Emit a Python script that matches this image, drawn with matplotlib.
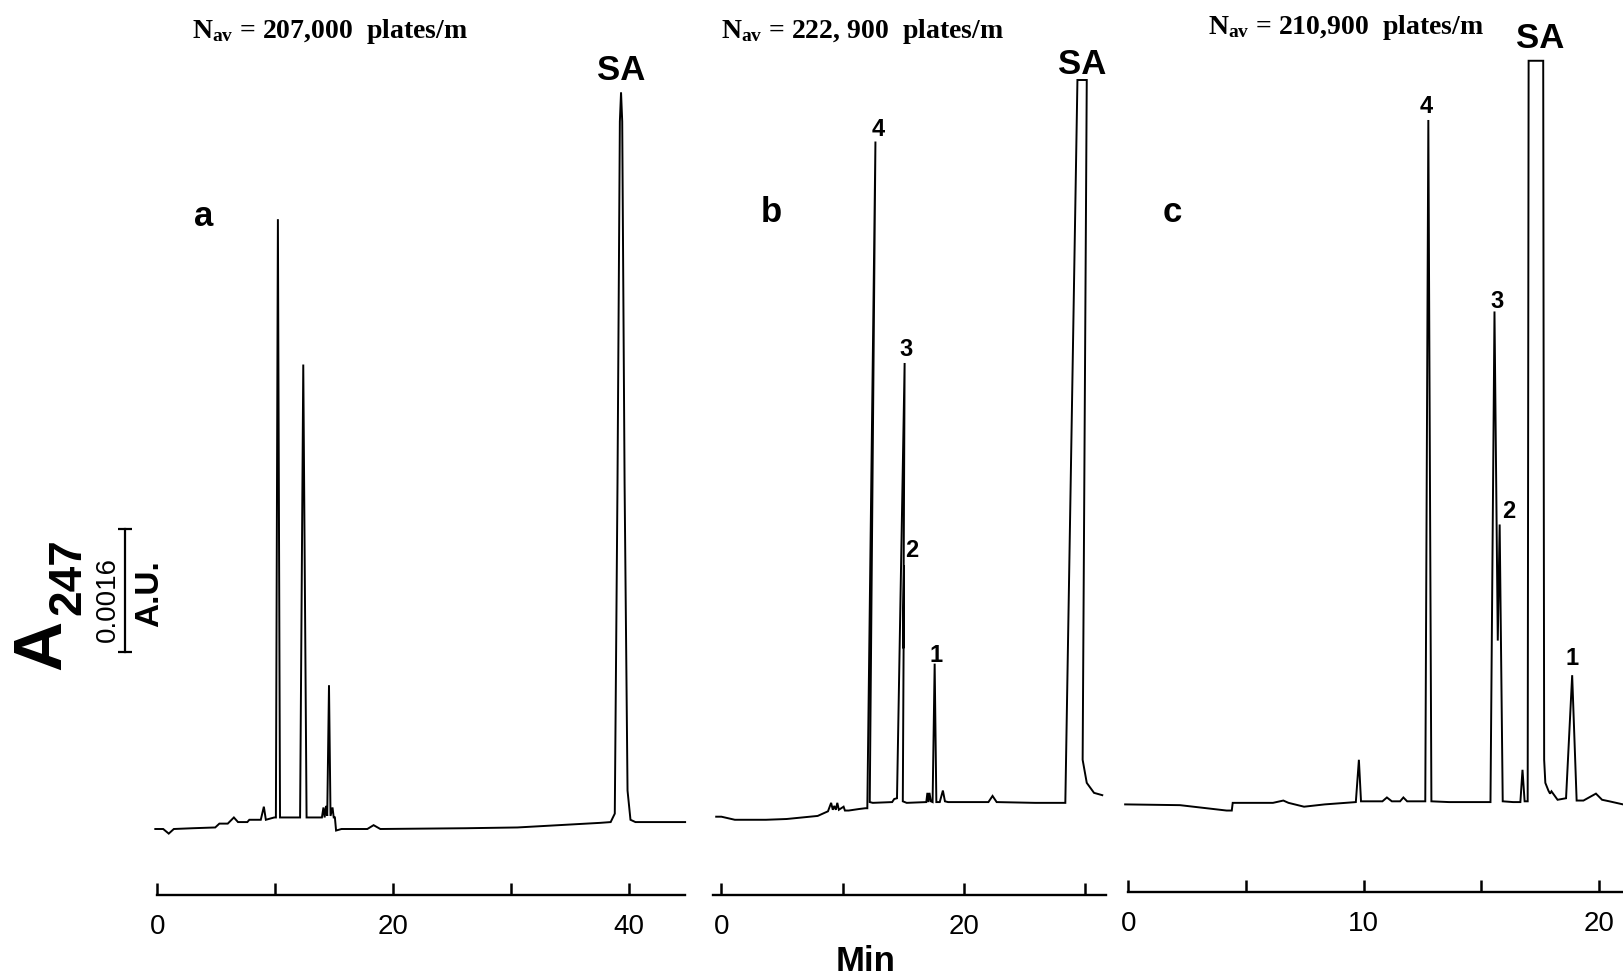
import matplotlib

matplotlib.use("Agg")
import matplotlib.pyplot as plt

# chromatograms: retention time (min) and absorbance at 247 nm (mAU, 1.6 mAU = 0.0016 A.U.)
a_time = [-0.17, 0.50, 0.97, 1.40, 3.00, 4.91, 5.26, 5.97, 6.49, 6.84, 7.63, 7.80, 8.77, 9.03,
          9.20, 9.91, 10.05, 10.22, 10.40, 10.53, 11.84, 12.10, 12.37, 12.65, 12.80, 13.95, 14.08,
          14.18, 14.30, 14.40, 14.55, 14.68, 14.85, 14.95, 15.05, 15.15, 15.61, 17.80, 18.33, 18.90,
          26.14, 30.52, 34.03, 37.54, 38.42, 38.77, 39.00, 39.20, 39.30, 39.40, 39.60, 39.85, 40.10,
          40.52, 44.73]
a_abs = [0.00, 0.00, -0.06, 0.00, 0.01, 0.02, 0.07, 0.07, 0.15, 0.09, 0.09, 0.12, 0.12, 0.29,
         0.12, 0.15, 0.15, 7.93, 0.15, 0.15, 0.15, 0.15, 6.04, 0.15, 0.15, 0.15, 0.28,
         0.15, 0.30, 0.17, 1.87, 0.17, 0.28, 0.15, 0.15, -0.02, 0.00, 0.00, 0.05, 0.00,
         0.01, 0.02, 0.05, 0.08, 0.09, 0.20, 4.50, 9.20, 9.58, 9.20, 4.50, 0.50, 0.12,
         0.09, 0.09]

b_time = [-0.43, 0.00, 1.11, 3.68, 5.39, 7.95, 8.80, 9.06, 9.20, 9.32, 9.45, 9.57, 9.70, 10.09,
          10.20, 10.51, 11.37, 11.88, 12.05, 12.72, 12.25, 12.50, 14.10, 14.27, 14.50, 15.13, 15.02,
          15.08, 14.98, 15.30, 16.92, 17.01, 17.10, 17.18, 17.30, 17.44, 17.61, 17.75, 18.03, 18.29,
          18.46, 18.72, 22.05, 22.39, 22.73, 25.90, 28.40, 29.40, 30.17, 29.83, 30.17, 30.77, 31.45]
b_abs = [0.16, 0.16, 0.12, 0.12, 0.13, 0.17, 0.23, 0.34, 0.25, 0.30, 0.25, 0.34, 0.25, 0.29,
         0.24, 0.24, 0.26, 0.27, 0.27, 8.94, 0.35, 0.34, 0.35, 0.39, 0.40, 6.06, 2.35,
         3.43, 0.36, 0.34, 0.35, 0.47, 0.35, 0.47, 0.36, 0.35, 2.15, 0.35, 0.35, 0.50,
         0.36, 0.35, 0.35, 0.43, 0.35, 0.34, 0.34, 9.74, 9.74, 0.90, 0.60, 0.47, 0.44]

c_time = [-0.13, 2.20, 4.18, 4.40, 4.44, 6.15, 6.59, 6.81, 7.47, 8.35, 9.67, 9.80, 9.89, 10.80,
          10.99, 11.20, 11.55, 11.69, 11.85, 12.62, 12.75, 12.88, 13.63, 15.39, 15.56, 15.70, 15.78,
          15.91, 16.35, 16.66, 16.75, 16.84, 16.97, 17.01, 17.63, 17.67, 17.72, 17.85, 17.92, 17.98,
          18.24, 18.60, 18.86, 19.05, 19.34, 19.87, 20.13, 20.44, 21.02]
c_abs = [0.32, 0.31, 0.24, 0.24, 0.34, 0.34, 0.37, 0.34, 0.29, 0.32, 0.35, 0.90, 0.36, 0.36,
         0.41, 0.36, 0.36, 0.41, 0.36, 0.36, 9.22, 0.36, 0.35, 0.35, 6.73, 2.45, 3.96,
         0.36, 0.35, 0.35, 0.77, 0.36, 0.36, 9.99, 9.99, 0.90, 0.60, 0.50, 0.46, 0.49,
         0.38, 0.40, 2.00, 0.37, 0.37, 0.46, 0.38, 0.36, 0.32]

titles = ["N$_{\\rm av}$ = 207,000  plates/m", "N$_{\\rm av}$ = 222, 900  plates/m",
          "N$_{\\rm av}$ = 210,900  plates/m"]
panel_letters = ["a", "b", "c"]
tick_values = [[0, 10, 20, 30, 40], [0, 10, 20, 30], [0, 5, 10, 15, 20]]
tick_labels = [["0", "", "20", "", "40"], ["0", "", "20", ""], ["0", "", "10", "", "20"]]
peak_names = ["4", "3", "2", "1"]
scale_bar_base = 2.30
scale_bar_len = 1.6  # mAU == 0.0016 A.U.

W, H = 1623, 979
SANS = ["Liberation Sans", "DejaVu Sans"]
NARROW = ["Liberation Sans Narrow", "Liberation Sans", "DejaVu Sans"]

plt.rcParams["mathtext.fontset"] = "custom"
plt.rcParams["mathtext.rm"] = "Liberation Serif:bold"
plt.rcParams["mathtext.it"] = "Liberation Serif:bold"
plt.rcParams["mathtext.bf"] = "Liberation Serif:bold"


def fx(x):
    return x / W


def fy(y):
    return 1 - y / H


# pixel layout of each panel: (trace left, trace right, zero-min px, px per min, axis left, axis right, axis y)
layout = [
    (140, 700, 157.3, 11.80, 157, 685, 896),
    (700, 1110, 721.4, 12.11, 713, 1106, 896),
    (1110, 1623, 1128.2, 23.54, 1128, 1623, 893),
]
Y0, PX_PER_MAU = 830.0, 76.9
ylim = ((Y0 - H) / PX_PER_MAU, Y0 / PX_PER_MAU)

fig = plt.figure(figsize=(W / 100, H / 100), dpi=100)
fig.patch.set_facecolor("white")

traces = [(a_time, a_abs), (b_time, b_abs), (c_time, c_abs)]
for (times, values), (xl, xr, x0, ppm, al, ar, ay), ticks, labels in zip(traces, layout, tick_values, tick_labels):
    ax = fig.add_axes([fx(xl), 0, fx(xr - xl), 1])
    ax.plot(times, values, color="black", linewidth=1.4, solid_joinstyle="miter")
    ax.set_xlim((xl - x0) / ppm, (xr - x0) / ppm)
    ax.set_ylim(*ylim)
    ax.axis("off")

    tax = fig.add_axes([fx(al), fy(ay), fx(ar - al), 0.04])
    tax.set_facecolor("none")
    tax.set_xlim((al - x0) / ppm, (ar - x0) / ppm)
    for side in ("top", "left", "right"):
        tax.spines[side].set_visible(False)
    tax.spines["bottom"].set_linewidth(1.7)
    tax.set_yticks([])
    tax.set_xticks(ticks)
    tax.set_xticklabels(labels, family=SANS, fontsize=20)
    tax.tick_params(axis="x", direction="in", length=9, width=1.8, pad=13)

# scale bar
sax = fig.add_axes([fx(110), 0, fx(30), 1])
sax.set_ylim(*ylim)
sax.set_xlim(-1, 1)
sax.axis("off")
sax.plot([0, 0], [scale_bar_base, scale_bar_base + scale_bar_len], color="black", linewidth=1.6,
         marker="_", markersize=10, markeredgewidth=1.6)

# y label
fig.text(fx(42), fy(645), "A", rotation=90, ha="center", va="center", fontsize=50,
         fontweight="bold", family=NARROW)
fig.text(fx(68), fy(577), "247", rotation=90, ha="center", va="center", fontsize=33,
         fontweight="bold", family=NARROW)
fig.text(fx(108), fy(600), "0.0016", rotation=90, ha="center", va="center", fontsize=20, family=SANS)
fig.text(fx(150), fy(594), "A.U.", rotation=90, ha="center", va="center", fontsize=24,
         fontweight="bold", family=SANS)

# titles
for title, (x, y) in zip(titles, [(330, 31), (862, 31), (1346, 27)]):
    fig.text(fx(x), fy(y), title, ha="center", va="center", fontsize=20, fontweight="bold",
             family=["Liberation Serif", "DejaVu Serif"])

# panel letters
for letter, (x, y) in zip(panel_letters, [(204, 217), (771, 212), (1172, 212)]):
    fig.text(fx(x), fy(y), letter, ha="center", va="center", fontsize=25, fontweight="bold", family=SANS)

# SA labels
for x, y in [(621, 70), (1082, 64), (1540, 39)]:
    fig.text(fx(x), fy(y), "SA", ha="center", va="center", fontsize=25, fontweight="bold", family=NARROW)

# peak numbers (panels b and c)
for name, (x, y) in zip(peak_names, [(878, 129), (906, 350), (912, 551), (936, 655)]):
    fig.text(fx(x), fy(y), name, ha="center", va="center", fontsize=17, fontweight="bold", family=SANS)
for name, (x, y) in zip(peak_names, [(1426, 107), (1497, 301), (1509, 512), (1572, 659)]):
    fig.text(fx(x), fy(y), name, ha="center", va="center", fontsize=17, fontweight="bold", family=SANS)

fig.text(fx(866), fy(962), "Min", ha="center", va="center", fontsize=25, fontweight="bold", family=SANS)

fig.savefig("out.png", dpi=100)
